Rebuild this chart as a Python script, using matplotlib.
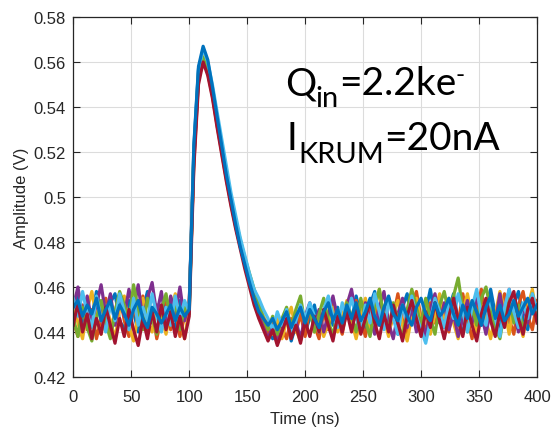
import numpy as np
import matplotlib.pyplot as plt

# sample times (ns), one point every 4 ns
time_ns = np.arange(0, 401, 4)

# amplitude of each captured trace, in mV
trace_1 = [447, 456, 443, 452, 446, 458, 448, 441, 453, 457, 445, 441, 454, 449, 440, 450, 458, 444, 452, 443,
           455, 447, 441, 454, 448, 452, 522, 557, 565, 557, 546, 533, 521, 510, 498, 488, 479, 471, 463, 457,
           450, 445, 441, 437, 444, 440, 447, 436, 443, 449, 440, 446, 452, 441, 448, 454, 443, 451, 442, 453,
           445, 456, 447, 440, 452, 458, 446, 442, 455, 449, 439, 451, 457, 444, 453, 441, 449, 459, 446, 454,
           442, 450, 457, 445, 439, 452, 447, 456, 443, 450, 459, 448, 440, 455, 444, 452, 458, 446, 441, 454, 448]
trace_2 = [445, 438, 452, 441, 450, 437, 446, 455, 440, 449, 457, 445, 438, 451, 444, 456, 441, 450, 437, 446,
           453, 441, 450, 438, 447, 452, 515, 552, 561, 555, 545, 532, 520, 508, 497, 487, 478, 470, 462, 455,
           449, 444, 439, 445, 436, 442, 437, 446, 440, 448, 438, 451, 443, 437, 449, 441, 453, 445, 439, 450,
           442, 454, 445, 438, 450, 456, 443, 451, 440, 447, 457, 445, 438, 452, 458, 446, 440, 453, 444, 456,
           448, 440, 453, 444, 457, 446, 437, 450, 459, 444, 452, 440, 448, 457, 446, 439, 452, 458, 447, 441, 454]
trace_3 = [453, 444, 437, 450, 458, 446, 439, 452, 445, 437, 450, 456, 443, 436, 448, 455, 445, 440, 452, 447,
           439, 450, 457, 445, 437, 451, 518, 555, 563, 558, 548, 536, 524, 512, 500, 490, 481, 472, 465, 458,
           453, 447, 443, 439, 446, 437, 445, 451, 441, 436, 446, 452, 440, 447, 438, 444, 451, 440, 447, 454,
           445, 437, 447, 455, 441, 450, 459, 446, 438, 449, 454, 443, 436, 447, 455, 444, 451, 439, 448, 457,
           446, 455, 444, 437, 449, 457, 446, 440, 452, 445, 437, 448, 458, 450, 439, 453, 445, 438, 451, 459, 446]
trace_4 = [451, 460, 447, 456, 445, 452, 461, 448, 457, 443, 454, 447, 459, 450, 461, 445, 455, 462, 448, 458,
           443, 456, 448, 460, 445, 453, 517, 553, 560, 556, 546, 534, 522, 510, 499, 489, 480, 471, 462, 454,
           447, 442, 437, 443, 435, 441, 448, 439, 445, 437, 447, 453, 442, 450, 440, 448, 456, 446, 441, 452,
           459, 447, 440, 453, 446, 439, 451, 458, 444, 437, 448, 455, 442, 451, 440, 446, 438, 450, 457, 444,
           453, 441, 448, 438, 446, 454, 444, 456, 448, 439, 450, 444, 457, 446, 459, 449, 440, 452, 444, 456, 447]
trace_5 = [446, 438, 451, 442, 436, 446, 454, 444, 437, 449, 458, 452, 444, 461, 450, 441, 455, 447, 439, 450,
           457, 445, 453, 441, 451, 448, 519, 554, 562, 557, 547, 535, 523, 511, 500, 490, 481, 473, 466, 459,
           453, 446, 441, 447, 439, 446, 451, 442, 450, 456, 443, 451, 440, 448, 455, 445, 438, 450, 442, 453,
           447, 440, 455, 445, 438, 451, 459, 446, 441, 453, 445, 437, 450, 459, 451, 443, 455, 446, 439, 452,
           458, 448, 456, 464, 450, 440, 451, 443, 455, 460, 450, 442, 437, 449, 456, 444, 452, 441, 448, 457, 445]
trace_6 = [455, 447, 458, 448, 442, 456, 446, 440, 453, 445, 457, 449, 441, 455, 443, 451, 445, 457, 447, 440,
           451, 443, 456, 446, 454, 449, 520, 556, 566, 560, 550, 538, 526, 514, 502, 492, 482, 474, 466, 459,
           455, 450, 446, 441, 449, 443, 450, 439, 445, 452, 446, 453, 447, 440, 450, 456, 447, 442, 453, 446,
           455, 447, 440, 452, 444, 457, 449, 441, 454, 446, 439, 452, 444, 456, 447, 441, 435, 445, 455, 449,
           442, 453, 446, 457, 449, 440, 451, 459, 447, 443, 455, 446, 438, 451, 459, 449, 442, 453, 446, 457, 450]
trace_7 = [443, 453, 440, 448, 437, 446, 439, 451, 443, 435, 446, 438, 450, 441, 434, 446, 437, 449, 440, 452,
           441, 449, 438, 447, 437, 447, 513, 550, 560, 554, 544, 531, 519, 507, 496, 486, 477, 468, 460, 452,
           446, 441, 436, 441, 434, 440, 446, 437, 443, 435, 445, 438, 447, 440, 450, 443, 436, 447, 440, 449,
           440, 450, 439, 446, 454, 444, 437, 448, 440, 452, 444, 436, 447, 454, 446, 438, 449, 442, 453, 445,
           437, 447, 455, 445, 438, 451, 443, 436, 448, 455, 445, 438, 449, 442, 453, 458, 446, 439, 450, 455, 444]
trace_8 = [451, 454, 447, 452, 448, 455, 445, 450, 454, 446, 452, 448, 443, 450, 454, 446, 442, 451, 448, 444,
           448, 452, 445, 451, 447, 450, 523, 558, 567, 561, 549, 536, 523, 510, 499, 488, 478, 470, 462, 455,
           449, 446, 443, 446, 441, 445, 449, 442, 447, 451, 444, 450, 446, 442, 449, 453, 445, 450, 444, 452,
           446, 453, 445, 449, 455, 447, 443, 451, 456, 448, 445, 452, 447, 443, 451, 455, 448, 445, 453, 447,
           450, 455, 448, 443, 452, 446, 454, 449, 443, 451, 456, 446, 452, 445, 448, 454, 447, 451, 455, 448, 452]

traces = [trace_1, trace_2, trace_3, trace_4, trace_5, trace_6, trace_7, trace_8]

# matlab default line colours
colors = ['#0072BD', '#D95319', '#EDB120', '#7E2F8E', '#77AC30', '#4DBEEE', '#A2142F', '#0072BD']

x_ticks = [0, 50, 100, 150, 200, 250, 300, 350, 400]
y_ticks = [0.42, 0.44, 0.46, 0.48, 0.5, 0.52, 0.54, 0.56, 0.58]
y_ticklabels = ['0.42', '0.44', '0.46', '0.48', '0.5', '0.52', '0.54', '0.56', '0.58']

plt.rcParams['font.family'] = ['Liberation Sans', 'DejaVu Sans']

fig = plt.figure(figsize=(5.51, 4.31), dpi=100)
ax = fig.add_axes([0.133, 0.123, 0.8416, 0.8352])

for tr, c in zip(traces, colors):
    ax.plot(time_ns, np.array(tr) / 1000.0, color=c, lw=2.3)

ax.set_xlim(0, 400)
ax.set_ylim(0.42, 0.58)
ax.set_xticks(x_ticks)
ax.set_yticks(y_ticks)
ax.set_yticklabels(y_ticklabels)

ax.grid(True, color='#dcdcdc', lw=0.8)
ax.set_axisbelow(True)
ax.tick_params(direction='in', length=5, width=0.8, top=True, right=True,
               labelsize=12, colors='#262626')
ax.tick_params(axis='x', pad=9)
ax.tick_params(axis='y', pad=5.2)
for sp in ax.spines.values():
    sp.set_color('#262626')
    sp.set_linewidth(0.9)

ax.set_xlabel('Time (ns)', fontsize=12, color='#262626', labelpad=5)
ax.set_ylabel('Amplitude (V)', fontsize=12, color='#262626', labelpad=3.5)

# annotation text, written piece by piece (main / subscript / superscript)
renderer = fig.canvas.get_renderer()


def piece(x, y, s, size):
    t = ax.text(x, y, s, transform=ax.transAxes, fontsize=size, family='Lato',
                va='baseline', ha='left', color='black')
    bb = t.get_window_extent(renderer)
    return ax.transAxes.inverted().transform((bb.x1, bb.y0))[0]


x = piece(0.456, 0.786, 'Q', 28)
x = piece(x, 0.7528, 'in', 21)
x = piece(x, 0.786, '=2.2ke', 28)
piece(x - 0.002, 0.8194, '-', 18)

x = piece(0.460, 0.6333, 'I', 28)
x = piece(x + 0.002, 0.5972, 'KRUM', 21)
piece(x, 0.6333, '=20nA', 28)

fig.savefig('out.png', dpi=100)
